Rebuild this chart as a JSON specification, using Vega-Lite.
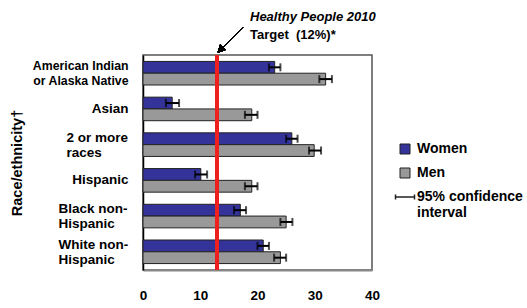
{
  "$schema": "https://vega.github.io/schema/vega-lite/v6.json",
  "width": 229,
  "height": 215,
  "autosize": {"type": "none"},
  "padding": {"left": 143, "top": 55, "right": 155, "bottom": 38},
  "background": "white",
  "config": {
    "font": "Liberation Sans",
    "view": {"stroke": "#555555", "strokeWidth": 1.5}
  },
  "title": {
    "text": "Healthy People 2010",
    "subtitle": "Target\u00a0 (12%)*",
    "anchor": "start",
    "frame": "group",
    "dx": 107,
    "offset": -17,
    "font": "Liberation Sans",
    "fontSize": 13,
    "fontStyle": "italic",
    "fontWeight": "bold",
    "color": "#000000",
    "subtitleFont": "Liberation Sans",
    "subtitleFontSize": 13,
    "subtitleFontWeight": "bold",
    "subtitleColor": "#000000",
    "subtitlePadding": 5
  },
  "data": {
    "values": [
      {"group": "American Indian or Alaska Native", "sex": "Women", "value": 23.0, "lo": 22.0, "hi": 24.0},
      {"group": "American Indian or Alaska Native", "sex": "Men", "value": 31.9, "lo": 30.8, "hi": 33.0},
      {"group": "Asian", "sex": "Women", "value": 5.1, "lo": 4.0, "hi": 6.3},
      {"group": "Asian", "sex": "Men", "value": 19.0, "lo": 17.8, "hi": 20.0},
      {"group": "2 or more races", "sex": "Women", "value": 26.0, "lo": 25.0, "hi": 27.0},
      {"group": "2 or more races", "sex": "Men", "value": 29.9, "lo": 29.0, "hi": 31.1},
      {"group": "Hispanic", "sex": "Women", "value": 10.1, "lo": 9.1, "hi": 11.2},
      {"group": "Hispanic", "sex": "Men", "value": 19.0, "lo": 17.8, "hi": 20.0},
      {"group": "Black non-Hispanic", "sex": "Women", "value": 17.0, "lo": 15.9, "hi": 18.0},
      {"group": "Black non-Hispanic", "sex": "Men", "value": 25.0, "lo": 24.0, "hi": 26.1},
      {"group": "White non-Hispanic", "sex": "Women", "value": 21.0, "lo": 20.0, "hi": 22.0},
      {"group": "White non-Hispanic", "sex": "Men", "value": 24.0, "lo": 22.9, "hi": 25.0}
    ]
  },
  "encoding": {
    "y": {
      "field": "group",
      "type": "nominal",
      "sort": null,
      "scale": {"paddingInner": 0.34, "paddingOuter": 0.18},
      "axis": {
        "title": "Race/ethnicity†",
        "titleFontSize": 14.5,
        "titleFontWeight": "bold",
        "titleColor": "#000000",
        "titlePadding": 8,
        "labelFontSize": {"condition": {"test": "datum.value == 'American Indian or Alaska Native'", "value": 12.3}, "value": 13.5},
        "labelFontWeight": "bold",
        "labelColor": "#000000",
        "labelLineHeight": 15,
        "labelOffset": {"condition": {"test": "indexof(['American Indian or Alaska Native', '2 or more races', 'Black non-Hispanic', 'White non-Hispanic'], datum.value) >= 0", "value": -7}, "value": 0},
        "labelAlign": {"condition": {"test": "indexof(['2 or more races', 'Black non-Hispanic', 'White non-Hispanic'], datum.value) >= 0", "value": "left"}, "value": "right"},
        "labelPadding": {"condition": [
          {"test": "datum.value == '2 or more races'", "value": 77},
          {"test": "datum.value == 'Black non-Hispanic' || datum.value == 'White non-Hispanic'", "value": 85}
        ], "value": 15},
        "labelLimit": 200,
        "ticks": false,
        "domainColor": "#000000",
        "domainWidth": 1.5,
        "labelExpr": "datum.label == 'American Indian or Alaska Native' ? ['American Indian', 'or Alaska Native'] : datum.label == '2 or more races' ? ['2 or more', 'races'] : datum.label == 'Black non-Hispanic' ? ['Black non-', 'Hispanic'] : datum.label == 'White non-Hispanic' ? ['White non-', 'Hispanic'] : datum.label"
      }
    }
  },
  "layer": [
    {
      "mark": {"type": "bar", "stroke": "#222222", "strokeWidth": 1},
      "encoding": {
        "x": {
          "field": "value",
          "type": "quantitative",
          "scale": {"domain": [0, 40], "nice": false},
          "axis": {
            "title": null,
            "values": [0, 10, 20, 30, 40],
            "grid": false,
            "ticks": false,
            "labelFlush": false,
            "labelFontSize": 13.5,
            "labelFontWeight": "bold",
            "labelColor": "#000000",
            "labelPadding": 18,
            "domainColor": "#888888",
            "domainWidth": 2
          }
        },
        "yOffset": {"field": "sex", "type": "nominal", "sort": ["Women", "Men"]},
        "color": {
          "field": "sex",
          "type": "nominal",
          "scale": {
            "domain": ["Women", "Men", "95% confidence interval"],
            "range": ["#333399", "#999999", "#000000"]
          },
          "legend": {
            "title": null,
            "orient": "none",
            "legendX": 255,
            "legendY": 87,
            "symbolType": "square",
            "symbolSize": 100,
            "symbolStrokeColor": "#222222",
            "symbolStrokeWidth": 1,
            "labelFontSize": 14,
            "labelFontWeight": "bold",
            "labelColor": "#000000",
            "labelLimit": 200,
            "labelOffset": 5,
            "rowPadding": 10,
            "labelExpr": "datum.label == '95% confidence interval' ? ['95% confidence', 'interval'] : datum.label",
            "encode": {
              "symbols": {
                "update": {
                  "shape": {"signal": "datum.value == '95% confidence interval' ? 'M-1.9,0H1.9M-1.9,-0.5V0.5M1.9,-0.5V0.5' : 'square'"},
                  "fill": {"signal": "datum.value == '95% confidence interval' ? 'transparent' : (datum.value == 'Women' ? '#333399' : '#999999')"},
                  "stroke": {"value": "#222222"},
                  "strokeWidth": {"signal": "datum.value == '95% confidence interval' ? 1.5 : 1"},
                  "opacity": {"value": 1}
                }
              }
            }
          }
        }
      }
    },
    {
      "mark": {"type": "rule", "color": "#ee2020", "strokeWidth": 3},
      "encoding": {"x": {"datum": 12.9, "type": "quantitative"}, "y": null}
    },
    {
      "mark": {"type": "rule", "color": "#000000", "strokeWidth": 2},
      "encoding": {
        "x": {"field": "lo", "type": "quantitative"},
        "x2": {"field": "hi"},
        "yOffset": {"field": "sex", "type": "nominal", "sort": ["Women", "Men"]}
      }
    },
    {
      "mark": {"type": "tick", "color": "#000000", "thickness": 2, "size": 8},
      "encoding": {
        "x": {"field": "lo", "type": "quantitative"},
        "yOffset": {"field": "sex", "type": "nominal", "sort": ["Women", "Men"]}
      }
    },
    {
      "mark": {"type": "tick", "color": "#000000", "thickness": 2, "size": 8},
      "encoding": {
        "x": {"field": "hi", "type": "quantitative"},
        "yOffset": {"field": "sex", "type": "nominal", "sort": ["Women", "Men"]}
      }
    },
    {
      "mark": {
        "type": "point",
        "shape": "M0,0L0.3,-0.1L0.1,-0.3ZM0.15,-0.15L1,-1",
        "size": 2500,
        "filled": true,
        "fill": "#000000",
        "stroke": "#000000",
        "strokeWidth": 1,
        "opacity": 1,
        "yOffset": -21
      },
      "encoding": {
        "x": {"datum": 13.1, "type": "quantitative"},
        "y": {"datum": "American Indian or Alaska Native", "type": "nominal"}
      }
    }
  ]
}
